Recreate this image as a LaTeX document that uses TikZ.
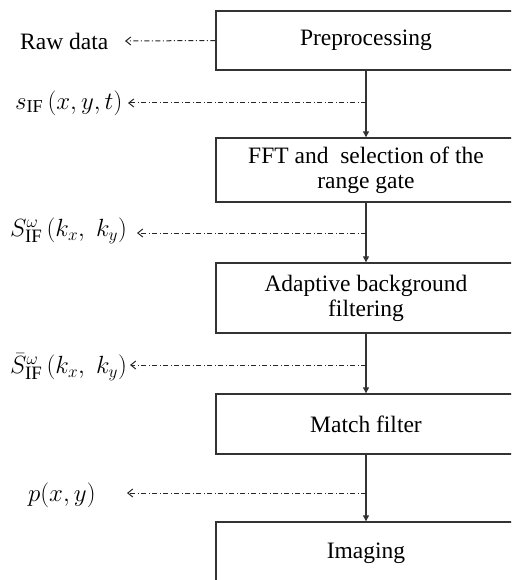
\documentclass[tikz,border=0pt]{standalone}
\usepackage{fontspec}
\setmainfont{Liberation Serif}
\usetikzlibrary{arrows.meta}
\begin{document}
\begin{tikzpicture}[x=1pt,y=-1pt,
  stepbox/.style={draw=black!80, line width=1.4pt, minimum width=300pt, inner sep=0pt, align=center, font=\fontsize{23.5}{25}\selectfont},
  flow/.style={draw=black!80, line width=1.2pt, -{Triangle[length=6pt,width=6pt]}},
  tap/.style={draw=black!85, line width=1pt, dash pattern=on 5pt off 2.5pt on 1pt off 2.5pt, -{Straight Barb[length=5pt,width=8pt]}},
  lbl/.style={font=\fontsize{23.5}{25}\selectfont, inner sep=0pt, anchor=west},
  mlbl/.style={font=\fontsize{26}{28}\selectfont, inner sep=0pt, anchor=west}]
\useasboundingbox (0,0) rectangle (511,580);
\clip (0,0) rectangle (511,580);
\fill[white] (0,0) rectangle (511,580);
% process boxes
\node[stepbox, minimum height=59pt] (pre) at (366,40.5) {Preprocessing};
\node[stepbox, minimum height=64pt] (fft) at (366,170) {FFT and~ selection of the\\range gate};
\node[stepbox, minimum height=70pt] (abf) at (366,298) {Adaptive background\\filtering};
\node[stepbox, minimum height=60pt] (mf) at (366,424) {Match filter};
\node[stepbox, minimum height=62pt] (img) at (366,553) {Imaging};
% main flow
\draw[flow] (pre) -- (fft);
\draw[flow] (fft) -- (abf);
\draw[flow] (abf) -- (mf);
\draw[flow] (mf) -- (img);
% labels
\node[lbl] (l0) at (20,41) {Raw data};
\node[mlbl] (l1) at (15,103) {$s_{\mathrm{IF}}\,\big(x,y,t\big)$};
\node[mlbl, font=\fontsize{27}{29}\selectfont] (l2) at (10,231) {$S^{\omega}_{\mathrm{IF}}\,\Big(k_x,\;k_y\Big)$};
\node[mlbl, font=\fontsize{27}{29}\selectfont] (l3) at (10,367) {$\bar{S}^{\omega}_{\mathrm{IF}}\,\Big(k_x,\;k_y\Big)$};
\node[mlbl] (l4) at (28,495) {$p\big(x,y\big)$};
% tap points
\coordinate (t1) at (366,103);
\coordinate (t2) at (366,233);
\coordinate (t3) at (366,365);
\coordinate (t4) at (366,493);
\coordinate (e0) at (125,41);
\coordinate (e1) at (128,103);
\coordinate (e2) at (137,233);
\coordinate (e3) at (130,365);
\coordinate (e4) at (127,493);
\draw[tap] (pre.west) -- (e0);
\draw[tap] (t1) -- (e1);
\draw[tap] (t2) -- (e2);
\draw[tap] (t3) -- (e3);
\draw[tap] (t4) -- (e4);
\end{tikzpicture}
\end{document}
